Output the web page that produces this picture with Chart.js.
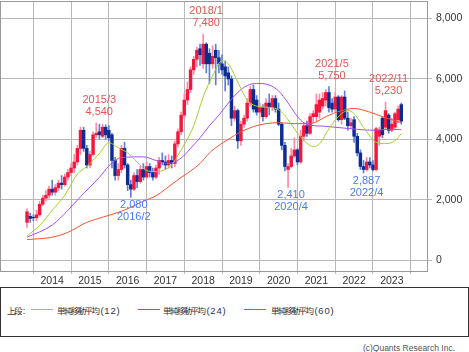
<!DOCTYPE html>
<html lang="ja">
<head>
<meta charset="utf-8">
<script src="https://cdn.jsdelivr.net/npm/chart.js@4.4.0/dist/chart.umd.min.js"></script>
<style>
  body { margin: 0; background: #fff; }
  #wrap { position: relative; width: 469px; height: 352px; font-family: 'Noto Sans CJK JP', sans-serif; color: #333; }
  #chart { position: absolute; left: 0; top: 0; }
  #legend { position: absolute; left: 0; top: 287px; width: 469px; height: 50px; box-sizing: border-box; border: 1px solid #333; }
  #legend span { position: absolute; top: 15px; font-size: 9.5px; line-height: 14px; white-space: nowrap; font-family: 'Liberation Sans', sans-serif; letter-spacing: 0.8px; }
  #legend span b { font-weight: normal; font-family: 'Noto Sans CJK JP', sans-serif; font-size: 8.5px; letter-spacing: -1.6px; margin-right: 2px; }
  #legend i { position: absolute; top: 21px; width: 22px; height: 1px; }
  #copy { position: absolute; right: 14px; top: 342px; font-size: 8.5px; line-height: 12px; color: #555; font-family: 'Liberation Sans', sans-serif; }
</style>
</head>
<body>
<div id="wrap">
  <canvas id="chart" width="469" height="287"></canvas>
  <div id="legend">
    <span style="left:6px"><b>上段</b>:</span>
    <i style="left:30px;background:#9fd12a"></i><span style="left:56px"><b>単純移動平均</b>(12)</span>
    <i style="left:137px;background:#a040ff"></i><span style="left:162px"><b>単純移動平均</b>(24)</span>
    <i style="left:243px;background:#ff4a2a"></i><span style="left:270px"><b>単純移動平均</b>(60)</span>
  </div>
  <div id="copy">(c)Quants Research Inc.</div>
</div>
<script>
// 月足 2013/5 〜 2023/4 (index 0 = 2013/5)
const opens  = [1250,1450,1420,1400,1500,1850,2050,2150,2350,2250,2400,2550,2500,2750,2900,3050,3250,3700,4300,3700,
                3150,3500,4150,4250,4100,4400,4300,4150,3300,2800,3000,3700,3150,2500,2350,2800,2600,3000,2750,3100,
                2900,2750,3050,3300,3250,3150,3300,3200,3850,4250,4800,5300,5650,6300,6650,7000,6500,7150,6850,6500,
                6950,6700,6500,6400,6200,6000,4700,4950,3950,4500,4700,5200,5650,5300,4900,5050,4750,5200,5050,5350,
                5000,4500,3800,3000,3100,3450,3650,3250,4100,4450,4200,4750,4750,4900,5100,5300,5550,5200,5000,5400,
                4650,5400,4700,4450,4650,4100,3550,3100,3000,3250,3150,3000,4100,4700,4400,4800,4300,4400,4650,5150];
const highs  = [1700,1550,1500,1650,1950,2150,2300,2450,2650,2500,2650,2800,2850,3000,3200,3500,3800,4400,4400,3800,
                3600,4250,4540,4500,4500,4480,4450,4200,3400,3200,3800,3900,3200,2650,2900,3000,3100,3200,3250,3200,
                3050,3150,3400,3550,3450,3500,3450,3950,4350,4900,5500,5900,6400,6750,7050,7150,7480,7200,7000,7100,
                7150,6950,6800,6600,6400,6100,5100,5000,4600,4800,5350,5750,5800,5450,5200,5150,5350,5500,5450,5450,
                5200,4550,3900,3200,3700,4050,3700,4300,4550,4600,4850,4950,5500,5500,5550,5650,5750,5350,5550,5450,
                5450,5600,4900,4700,4750,4200,3650,3300,3400,3400,3300,4400,4400,4750,5230,4850,4700,4900,5100,5200];
const lows   = [1080,1250,1300,1300,1450,1800,1950,2050,2150,2150,2300,2350,2450,2650,2800,2900,3150,3500,3600,3050,
                3050,3450,4050,4000,4050,4000,3950,3050,2650,2650,2900,3050,2300,2080,2300,2400,2550,2650,2700,2750,
                2650,2700,2850,3150,3000,3050,3050,3100,3750,4150,4700,5150,5550,6150,6400,6450,6350,6200,5850,6350,
                5800,6200,6150,5600,5800,4450,4600,3700,3800,4400,4600,5100,4900,4800,4700,4600,4700,4800,4950,4900,
                4450,3650,2950,2410,3050,3400,3150,3200,3950,4100,4150,4550,4600,4700,5000,5100,4900,4900,4900,4600,
                4500,4650,4300,4350,3900,3450,3000,2887,2950,3050,2950,2950,3800,4050,4350,4200,4250,4350,4550,4500];
const closes = [1600,1380,1400,1500,1850,2050,2150,2350,2250,2400,2550,2500,2750,2900,3050,3250,3700,4300,3700,3150,
                3500,4150,4200,4150,4400,4150,4050,3300,2800,3000,3700,3150,2500,2350,2800,2600,3000,2750,3100,2900,
                2750,3050,3300,3250,3150,3300,3200,3850,4250,4800,5300,5650,6300,6650,6950,6800,7150,6500,6500,6750,
                6700,6500,6300,6100,6000,4700,4950,3950,4500,4700,5200,5650,5000,4900,5050,4750,5200,5050,5350,5000,
                4500,3800,3100,3100,3450,3650,3250,4100,4450,4200,4750,4850,5150,5300,5350,5550,5050,5000,5400,4650,
                5400,4700,4450,4550,4100,3550,3100,3000,3250,3150,3000,4350,4300,4150,4950,4300,4500,4850,5000,4600];

// 移動平均 (読み取り点: 月index と値)
const ma12Idx = [0,4,8,12,16,19,23,26,29,32,35,38,41,44,46,49,53,56,59,62,64,67,70,74,78,81,83,86,89,91,93,96,99,102,104,106,108,111,114,117,119];
const ma12Val = [800,1150,1650,2150,2850,3100,3530,3890,3720,3550,3250,2970,2930,3000,3150,3650,4450,5400,6100,6600,6500,5900,5300,5080,5050,4900,4650,4200,3870,3760,3850,4350,4750,4950,4850,4550,4250,3900,3860,3950,4190];
const ma24Idx = [0,8,13,17,20,23,26,28,30,37,41,45,49,52,55,58,61,64,67,70,73,77,80,82,84,86,88,90,95,100,105,110,115,119];
const ma24Val = [760,1160,1650,2100,2420,2740,3120,3300,3400,3420,3300,3200,3380,3700,4050,4450,4800,5200,5550,5780,5850,5800,5600,5350,5050,4750,4550,4470,4430,4380,4330,4300,4330,4320];
const ma60Idx = [0,8,13,19,24,29,33,37,41,44,49,52,55,58,61,64,68,72,76,80,85,90,92,95,100,104,109,113,116,119];
const ma60Val = [680,760,920,1250,1420,1580,1750,1950,2130,2350,2740,2950,3200,3550,3800,4000,4250,4420,4520,4550,4520,4520,4580,4750,4950,5020,4900,4750,4650,4550];

// 高値・安値の注記
const annIdx   = [22, 33, 56, 83, 96, 107, 114];
const annDate  = ['2015/3', '2016/2', '2018/1', '2020/4', '2021/5', '2022/4', '2022/11'];
const annValue = [4540, 2080, 7480, 2410, 5750, 2887, 5230];
const annHigh  = [true, false, true, false, true, false, true];

const yearLabels = ['2014','2015','2016','2017','2018','2019','2020','2021','2022','2023'];
const yTicks = [0, 2000, 4000, 6000, 8000];

const yearIdx = yearLabels.map(y => (Number(y) - 2013) * 12 - 4);
const isUp = closes.map((c, i) => c >= opens[i]);

const axisFont = { family: "'Liberation Sans Narrow', 'Liberation Sans', sans-serif", size: 10.5 };
const gridColor = '#b8b8b8';

const framePlugin = {
    id: 'frame',
    beforeDatasetsDraw(chart) {
        const a = chart.chartArea, ctx = chart.ctx;
        ctx.save();
        ctx.strokeStyle = '#999';
        ctx.lineWidth = 1;
        ctx.strokeRect(Math.round(a.left) + 0.5, Math.round(a.top) + 0.5, Math.round(a.right - a.left) - 1, Math.round(a.bottom - a.top));
        ctx.restore();
    }
};

const notePlugin = {
    id: 'notes',
    afterDatasetsDraw(chart) {
        const ctx = chart.ctx, xs = chart.scales.x, ys = chart.scales.y;
        ctx.save();
        ctx.font = "11px 'Liberation Sans Narrow', 'Liberation Sans', sans-serif";
        ctx.textAlign = 'center';
        ctx.textBaseline = 'middle';
        annIdx.forEach((idx, i) => {
            const x = xs.getPixelForValue(idx) + 3;
            const y = ys.getPixelForValue(annValue[i]);
            const val = annValue[i].toLocaleString('en-US');
            if (annHigh[i]) {
                ctx.fillStyle = '#e25555';
                ctx.fillText(annDate[i], x, y - 23);
                ctx.fillText(val, x, y - 11);
            } else {
                ctx.fillStyle = '#4a7cf0';
                ctx.fillText(val, x, y + 8);
                ctx.fillText(annDate[i], x, y + 20);
            }
        });
        ctx.restore();
    }
};

new Chart(document.getElementById('chart'), {
    type: 'bar',
    data: {
        datasets: [
            {
                type: 'line', label: 'MA12', order: 1,
                data: ma12Idx.map((x, i) => ({ x, y: ma12Val[i] })),
                borderColor: '#a2d22a', borderWidth: 1, pointRadius: 0, cubicInterpolationMode: 'monotone'
            },
            {
                type: 'line', label: 'MA24', order: 2,
                data: ma24Idx.map((x, i) => ({ x, y: ma24Val[i] })),
                borderColor: '#a84cff', borderWidth: 1, pointRadius: 0, cubicInterpolationMode: 'monotone'
            },
            {
                type: 'line', label: 'MA60', order: 3,
                data: ma60Idx.map((x, i) => ({ x, y: ma60Val[i] })),
                borderColor: '#ff5030', borderWidth: 1, pointRadius: 0, cubicInterpolationMode: 'monotone'
            },
            {
                label: 'body', order: 4, grouped: false,
                data: opens.map((o, i) => ({ x: i, y: [o, closes[i]] })),
                backgroundColor: isUp.map(u => u ? '#f5163c' : '#0d2c92'),
                barThickness: 2.8, borderWidth: 0, borderSkipped: false
            },
            {
                label: 'wick', order: 5, grouped: false,
                data: lows.map((l, i) => ({ x: i, y: [l, highs[i]] })),
                backgroundColor: isUp.map(u => u ? '#ff8aa0' : '#5f7fd6'),
                barThickness: 1, borderWidth: 0, borderSkipped: false
            }
        ]
    },
    options: {
        responsive: false,
        animation: false,
        devicePixelRatio: 1,
        layout: { padding: { top: 1, left: 0, right: 0, bottom: 0 } },
        plugins: { legend: { display: false }, tooltip: { enabled: false } },
        scales: {
            x: {
                type: 'linear', position: 'bottom', min: -8.6, max: 127.5, offset: false,
                grid: { color: gridColor, tickLength: 3 },
                border: { display: false },
                afterBuildTicks: ax => { ax.ticks = yearIdx.map(v => ({ value: v })); },
                afterFit: ax => { ax.height = 16; },
                ticks: {
                    autoSkip: false, maxRotation: 0, padding: 1, color: '#333', font: axisFont,
                    callback: v => yearLabels[yearIdx.indexOf(v)]
                }
            },
            y: {
                position: 'right', min: -360, max: 8580,
                grid: { color: gridColor, tickLength: 4 },
                border: { display: false },
                afterBuildTicks: ax => { ax.ticks = yTicks.map(v => ({ value: v })); },
                afterFit: ax => { ax.width = 41; ax.paddingTop = 0; ax.paddingBottom = 0; },
                ticks: {
                    padding: 4, color: '#333', font: axisFont,
                    callback: v => v.toLocaleString('en-US')
                }
            }
        }
    },
    plugins: [framePlugin, notePlugin]
});
</script>
</body>
</html>
